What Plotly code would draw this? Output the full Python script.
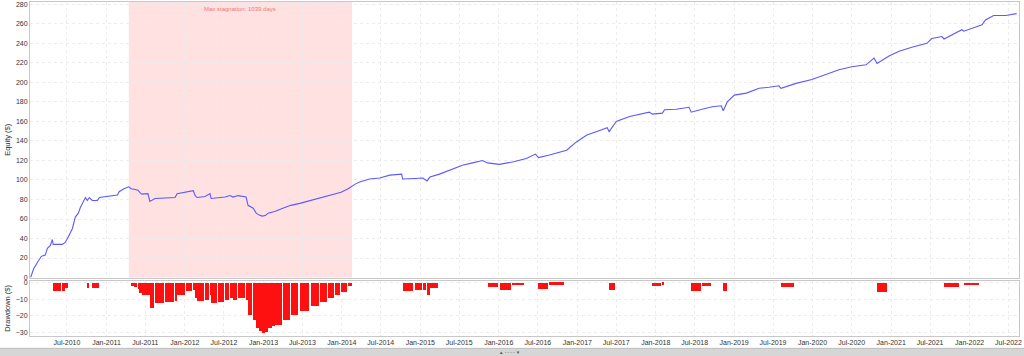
import plotly.graph_objects as go
import pandas as pd
import numpy as np

# ---- data ----
dates = [
    "2010-01-13", "2010-01-27", "2010-02-15", "2010-03-03", "2010-03-13", "2010-03-22",
    "2010-04-01", "2010-04-15", "2010-04-24", "2010-04-28", "2010-06-09", "2010-06-23",
    "2010-07-07", "2010-07-26", "2010-08-09", "2010-08-23", "2010-09-02", "2010-09-16",
    "2010-09-25", "2010-10-04", "2010-10-13", "2010-10-27", "2010-11-20", "2010-11-29",
    "2011-01-19", "2011-02-21", "2011-03-01", "2011-03-23", "2011-04-15", "2011-04-25",
    "2011-05-09", "2011-05-28", "2011-06-06", "2011-06-15", "2011-07-13", "2011-07-22",
    "2011-08-15", "2011-10-01", "2011-11-16", "2011-11-26", "2012-01-07", "2012-02-09",
    "2012-02-18", "2012-02-27", "2012-04-04", "2012-04-27", "2012-05-02", "2012-06-04",
    "2012-07-06", "2012-07-29", "2012-08-12", "2012-09-05", "2012-10-12", "2012-10-21",
    "2012-11-14", "2012-11-28", "2012-12-12", "2012-12-26", "2013-01-09", "2013-01-23",
    "2013-02-11", "2013-02-25", "2013-04-01", "2013-05-08", "2013-06-19", "2013-08-10",
    "2013-09-21", "2013-10-28", "2013-11-30", "2013-12-28", "2014-01-30", "2014-02-18",
    "2014-03-06", "2014-03-24", "2014-05-10", "2014-06-26", "2014-08-12", "2014-10-06",
    "2014-10-11", "2014-12-06", "2015-01-13", "2015-02-01", "2015-02-15", "2015-03-31",
    "2015-05-31", "2015-07-16", "2015-09-01", "2015-10-18", "2015-11-10", "2016-01-05",
    "2016-03-05", "2016-05-09", "2016-06-20", "2016-07-04", "2016-08-24", "2016-11-12",
    "2016-12-28", "2017-02-14", "2017-03-30", "2017-05-20", "2017-05-29", "2017-07-01",
    "2017-09-01", "2017-12-02", "2017-12-16", "2018-02-01", "2018-02-11", "2018-04-06",
    "2018-06-05", "2018-06-15", "2018-08-05", "2018-09-21", "2018-11-02", "2018-11-11",
    "2018-11-30", "2019-01-02", "2019-02-27", "2019-04-27", "2019-06-12", "2019-07-28",
    "2019-08-07", "2019-10-16", "2019-12-29", "2020-03-03", "2020-05-03", "2020-07-02",
    "2020-09-06", "2020-10-13", "2020-10-27", "2020-12-22", "2021-02-07", "2021-04-07",
    "2021-06-16", "2021-07-09", "2021-08-25", "2021-09-04", "2021-11-26", "2021-12-05",
    "2022-02-28", "2022-03-16", "2022-04-23", "2022-06-18", "2022-08-08",
]
equity = [
    0.0, 9, 16, 21.5, 22.5, 23,
    30, 33, 39, 34, 34, 36,
    41.5, 50, 62, 66, 72, 79,
    82, 79, 82, 79, 79, 82,
    83.5, 84.5, 88, 91, 93, 91,
    90.5, 89.5, 87, 85.5, 86, 78,
    81, 81.5, 82, 86, 88, 89,
    84, 82, 83, 86, 81, 81.5,
    82.5, 84, 82.5, 84, 82.5, 74,
    71, 66, 64, 63, 63.5, 66,
    67, 68, 71, 74, 76, 79,
    81.5, 84, 86, 87.5, 91, 94,
    96, 98, 101, 102, 105, 106,
    101, 101.5, 102, 99, 103, 106,
    111, 115, 117.5, 120, 117.5, 116,
    118.5, 122, 126.5, 123, 125.5, 130.5,
    139, 146, 149.5, 153.5, 149.5, 160,
    165, 169.5, 167.5, 168.5, 172, 172.5,
    174.5, 169.5, 172.5, 175, 176, 171,
    180, 187, 189, 194, 195, 196.5,
    194, 199, 203, 208, 213, 216,
    218, 225, 219.5, 227, 232, 236,
    240, 245, 247, 244.5, 254, 252.5,
    259, 264, 268.5, 268.5, 270.5,
]
stagnation_start = "2011-04-15"
stagnation_days = 1039
y_ticks_equity = list(range(0, 281, 20))
y_ticks_dd = [0, -10, -20, -30]

# ---- derived ----
dt = pd.to_datetime(dates)
eq = np.array(equity, dtype=float)
drawdown = eq - np.maximum.accumulate(eq)
gaps_ms = np.diff(dt.values).astype("timedelta64[ms]").astype(float)
widths = np.append(gaps_ms, 3 * 86400000.0) * 0.85
stag_end = pd.Timestamp(stagnation_start) + pd.Timedelta(days=stagnation_days)

FONT = "Arial, Liberation Sans, sans-serif"
GRID = "#ececec"
AXC = "#c8c8c8"

fig = go.Figure()
fig.add_trace(go.Scatter(x=dt, y=eq, mode="lines",
                         line=dict(color="#5a5aff", width=1.1),
                         xaxis="x", yaxis="y", showlegend=False))
fig.add_trace(go.Bar(x=dt, y=drawdown, width=widths, offset=0,
                     marker=dict(color="#ff1010", line=dict(width=0)),
                     xaxis="x2", yaxis="y2", showlegend=False))

xrange = ["2010-01-10", "2022-08-19"]
common_x = dict(type="date", range=xrange, tick0="2010-01-01", dtick="M6",
                tickformat="%b-%Y", showgrid=True, gridcolor=GRID, griddash="dot",
                gridwidth=1, showline=True, linecolor=AXC, mirror=True,
                zeroline=False, ticks="", tickfont=dict(size=7, color="#333", family=FONT))

fig.update_layout(
    width=1024, height=356,
    margin=dict(l=30, r=5, t=2, b=20),
    paper_bgcolor="white", plot_bgcolor="white",
    font=dict(family=FONT),
    bargap=0,
    xaxis=dict(common_x, domain=[0, 1], anchor="y", showticklabels=False, matches="x2"),
    xaxis2=dict(common_x, domain=[0, 1], anchor="y2", showticklabels=True),
    yaxis=dict(domain=[0.175, 1], range=[0, 282.4], tickvals=y_ticks_equity,
               showgrid=True, gridcolor=GRID, griddash="dot", zeroline=False,
               showline=True, linecolor=AXC, mirror=True, ticks="",
               tickfont=dict(size=7, color="#333", family=FONT),
               title=dict(text="Equity ($)", font=dict(size=7.5, color="#333", family=FONT), standoff=4),
               automargin=False),
    yaxis2=dict(domain=[0, 0.1656], range=[-32, 1.1], tickvals=y_ticks_dd,
                showgrid=True, gridcolor=GRID, griddash="dot", zeroline=False,
                showline=True, linecolor=AXC, mirror=True, ticks="",
                tickfont=dict(size=7, color="#333", family=FONT),
                title=dict(text="Drawdown ($)", font=dict(size=7.5, color="#333", family=FONT), standoff=4),
                automargin=False),
)

# stagnation shading
fig.add_shape(type="rect", xref="x", yref="y domain", x0=stagnation_start, x1=stag_end,
              y0=0, y1=1, fillcolor="rgba(255,80,80,0.17)", line=dict(width=0), layer="below")
mid = pd.Timestamp(stagnation_start) + (stag_end - pd.Timestamp(stagnation_start)) / 2
fig.add_annotation(x=mid, xref="x", y=0.993, yref="y domain", yanchor="top",
                   text=f"Max stagnation: {stagnation_days} days", showarrow=False,
                   font=dict(size=6, color="#ee7777", family=FONT))

# bottom splitter bar
fig.add_shape(type="rect", xref="paper", yref="paper", x0=-0.04, x1=1.01,
              y0=-0.075, y1=-0.037, fillcolor="#d6d6d6", line=dict(color="#bdbdbd", width=1),
              layer="above")
fig.add_annotation(x=0.485, xref="paper", y=-0.05, yref="paper", yanchor="middle",
                   text="▲ - - - - ▼", showarrow=False, borderpad=0,
                   font=dict(size=4.5, color="#555", family=FONT))

fig.write_html("out.html")
